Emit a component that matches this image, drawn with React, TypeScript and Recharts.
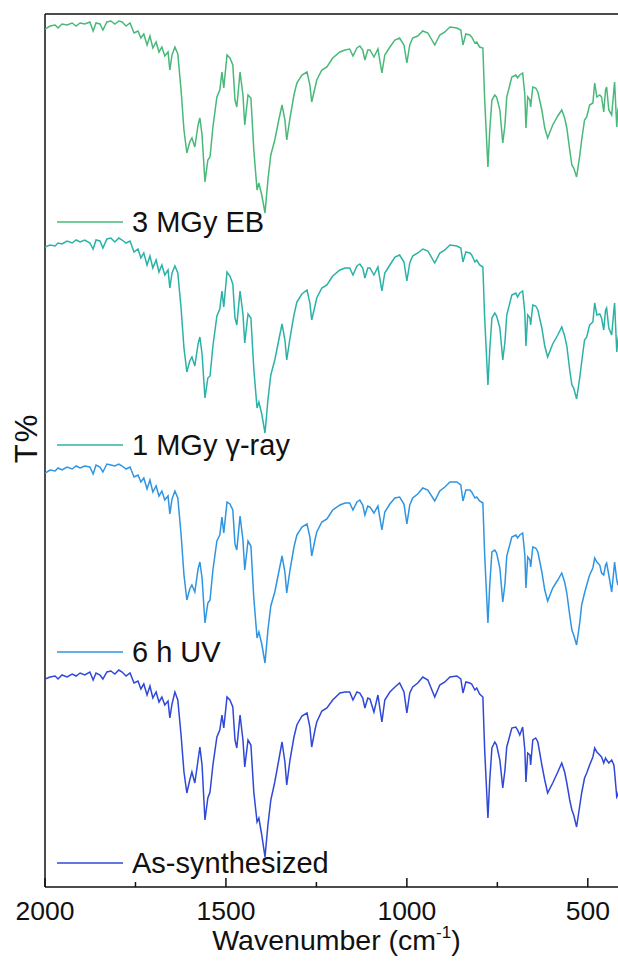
import React from 'react';
import { LineChart, Line, XAxis, YAxis, ReferenceLine } from 'recharts';

// wavenumber (cm-1), shared by all four spectra
const wavenumber = [
  2000, 1986, 1972, 1964, 1953, 1939, 1925, 1914, 1903, 1890, 1876, 1867, 1859, 1848, 1840, 1829, 1818, 1807, 1796, 1787,
  1776, 1765, 1754, 1743, 1735, 1727, 1718, 1710, 1702, 1693, 1685, 1677, 1669, 1660, 1655, 1649, 1641, 1633, 1624, 1616,
  1608, 1600, 1594, 1586, 1577, 1572, 1566, 1558, 1550, 1544, 1536, 1525, 1517, 1511, 1506, 1497, 1489, 1481, 1475, 1470,
  1461, 1453, 1448, 1439, 1431, 1423, 1414, 1409, 1401, 1392, 1384, 1376, 1365, 1354, 1345, 1337, 1332, 1323, 1312, 1304,
  1290, 1276, 1268, 1263, 1254, 1249, 1235, 1221, 1205, 1185, 1171, 1158, 1149, 1138, 1130, 1122, 1116, 1108, 1102, 1091,
  1080, 1069, 1061, 1047, 1033, 1020, 1008, 1000, 992, 984, 970, 956, 942, 923, 909, 895, 881, 862, 851, 845,
  837, 826, 821, 812, 807, 799, 790, 785, 776, 771, 765, 757, 752, 743, 735, 729, 724, 710, 699, 694,
  688, 680, 674, 671, 666, 660, 658, 652, 644, 638, 627, 619, 611, 597, 583, 572, 564, 558, 550, 544,
  539, 531, 522, 517, 509, 503, 495, 486, 481, 475, 467, 462, 456, 451, 448, 442, 434, 428, 426, 420,
  417, 409, 400,
];

// T% (stacked, arbitrary offset)
const eb3MGy = [
  85.8, 86.1, 86.2, 85.9, 86.3, 86.2, 86.4, 86.1, 86.4, 86.3, 86.5, 85.6, 86.4, 86.3, 85.7, 86.5, 86.6, 86.3, 86.6, 86.5,
  86.1, 86.4, 85.4, 85.6, 84.9, 85.3, 84.2, 85.1, 83.9, 84.5, 83.5, 84.0, 83.1, 83.5, 81.7, 83.2, 84.0, 83.3, 79.7, 75.7,
  73.4, 74.5, 74.9, 74.0, 76.2, 76.9, 75.2, 70.5, 72.7, 73.0, 76.0, 79.0, 79.7, 81.5, 79.9, 83.2, 82.9, 82.2, 78.7, 78.0,
  81.5, 79.2, 76.2, 79.2, 78.9, 73.7, 69.7, 70.4, 69.2, 67.4, 70.7, 73.2, 74.7, 76.7, 78.2, 76.7, 74.7, 76.9, 79.2, 80.4,
  81.2, 81.5, 80.2, 78.5, 79.9, 80.7, 81.7, 82.0, 82.9, 83.5, 83.7, 83.8, 83.1, 83.9, 84.1, 83.7, 82.7, 83.7, 83.7, 83.0,
  83.8, 81.4, 83.2, 84.0, 84.7, 84.9, 84.2, 82.4, 84.2, 84.9, 85.1, 85.6, 85.4, 84.2, 85.2, 85.5, 86.0, 85.9, 85.7, 84.2,
  85.3, 85.2, 85.0, 84.4, 84.5, 84.0, 83.9, 78.7, 72.0, 75.7, 78.7, 79.2, 79.0, 77.7, 74.4, 76.2, 79.0, 81.0, 81.2, 80.9,
  81.2, 81.4, 79.2, 75.9, 79.0, 78.7, 78.0, 80.0, 79.9, 79.5, 77.7, 75.9, 74.9, 76.2, 77.1, 77.7, 76.9, 75.9, 73.7, 72.2,
  71.9, 71.0, 73.2, 74.7, 76.7, 77.0, 78.2, 78.4, 80.4, 79.0, 79.2, 79.0, 77.5, 79.7, 80.0, 77.7, 77.2, 79.7, 80.5, 76.0,
  77.7, 78.7, 78.2,
];

const gamma1MGy = [
  64.0, 64.2, 64.1, 64.4, 64.3, 64.6, 64.4, 64.7, 64.5, 64.7, 64.4, 63.8, 64.7, 64.6, 63.9, 64.8, 64.9, 64.5, 64.9, 64.7,
  64.4, 64.6, 63.5, 63.8, 62.9, 63.4, 62.2, 63.1, 61.9, 62.7, 61.5, 62.2, 61.2, 61.7, 59.9, 61.4, 62.1, 61.4, 57.9, 53.9,
  51.5, 52.6, 53.0, 52.1, 54.3, 55.0, 53.3, 48.9, 50.9, 51.1, 54.1, 57.1, 57.8, 59.6, 58.0, 61.5, 61.1, 60.3, 56.9, 56.2,
  59.6, 57.3, 54.4, 57.3, 56.9, 51.8, 47.9, 48.5, 47.3, 45.4, 48.7, 51.2, 52.7, 54.7, 56.3, 54.7, 52.7, 54.9, 57.2, 58.5,
  59.3, 59.7, 58.4, 56.7, 58.1, 58.9, 59.9, 60.2, 61.1, 61.7, 61.9, 61.9, 61.2, 62.1, 62.3, 61.9, 60.9, 61.9, 61.9, 61.2,
  62.0, 59.6, 61.4, 62.2, 63.0, 63.2, 62.5, 60.6, 62.4, 63.1, 63.4, 63.8, 63.6, 62.4, 63.4, 63.7, 64.2, 64.1, 63.9, 62.5,
  63.5, 63.4, 63.2, 62.5, 62.7, 62.2, 62.0, 56.9, 50.2, 53.7, 56.9, 57.4, 57.1, 55.9, 52.7, 54.5, 57.2, 59.2, 59.4, 59.0,
  59.4, 59.6, 57.4, 54.1, 57.2, 56.9, 56.2, 58.2, 58.1, 57.7, 55.9, 54.1, 53.0, 54.3, 55.2, 56.0, 55.1, 54.1, 51.7, 50.2,
  49.9, 48.8, 51.0, 52.5, 54.7, 55.0, 56.2, 56.5, 58.4, 57.2, 57.3, 56.9, 55.7, 57.7, 57.9, 55.9, 55.2, 57.7, 58.4, 53.5,
  54.7, 56.5, 56.2,
];

const uv6h = [
  41.4, 41.7, 41.6, 41.9, 41.7, 42.0, 41.8, 42.1, 41.9, 42.1, 42.0, 41.3, 42.2, 42.0, 41.5, 42.3, 42.2, 42.1, 42.3, 42.1,
  41.8, 42.0, 41.0, 41.2, 40.5, 40.9, 39.8, 40.7, 39.5, 40.1, 39.1, 39.6, 38.7, 39.1, 37.3, 38.8, 39.6, 38.9, 35.3, 31.2,
  28.7, 29.8, 30.2, 29.5, 31.8, 32.5, 30.9, 26.4, 28.4, 28.7, 31.7, 34.6, 35.2, 37.0, 35.4, 38.5, 38.3, 37.7, 34.3, 33.7,
  37.1, 34.7, 31.7, 34.6, 34.1, 28.9, 24.9, 25.5, 24.3, 22.4, 25.7, 28.1, 29.5, 31.5, 33.1, 31.5, 29.4, 31.7, 34.0, 35.2,
  36.0, 36.3, 35.0, 33.1, 34.7, 35.5, 36.5, 36.8, 37.7, 38.2, 38.4, 38.4, 37.7, 38.5, 38.7, 38.2, 37.2, 38.1, 38.0, 37.4,
  38.1, 35.7, 37.5, 38.3, 38.9, 39.0, 38.3, 36.3, 38.2, 38.9, 39.3, 39.9, 39.7, 38.6, 39.6, 40.0, 40.5, 40.5, 40.2, 38.6,
  39.7, 39.7, 39.5, 38.9, 39.0, 38.6, 38.4, 33.2, 26.4, 30.2, 33.5, 33.7, 33.4, 31.9, 28.5, 30.3, 33.1, 35.0, 35.2, 34.9,
  35.2, 35.4, 33.2, 29.9, 33.0, 32.7, 32.0, 34.0, 33.9, 33.5, 31.5, 29.7, 28.6, 29.9, 30.7, 31.4, 30.5, 29.4, 27.2, 25.7,
  25.2, 24.2, 26.5, 28.2, 29.4, 30.2, 31.2, 31.9, 32.9, 32.5, 32.2, 31.4, 31.2, 32.2, 32.4, 31.2, 29.5, 31.7, 32.5, 30.7,
  30.2, 31.7, 31.5,
];

const asSynthesized = [
  20.8, 21.0, 21.1, 20.8, 21.2, 21.0, 21.3, 21.1, 21.4, 21.2, 21.5, 20.7, 21.4, 21.2, 20.8, 21.5, 21.6, 21.3, 21.7, 21.5,
  21.1, 21.4, 20.4, 20.6, 19.8, 20.3, 19.2, 20.1, 18.9, 19.5, 18.5, 19.0, 18.2, 18.6, 16.9, 18.3, 19.5, 18.7, 15.2, 11.5,
  9.4, 10.7, 11.5, 10.4, 12.7, 14.0, 12.2, 6.7, 8.9, 9.5, 12.2, 15.0, 15.7, 17.2, 15.9, 19.0, 18.7, 18.0, 14.7, 13.9,
  17.2, 14.7, 12.0, 14.7, 14.2, 9.5, 6.5, 6.9, 5.2, 3.0, 6.2, 8.7, 10.5, 12.7, 14.5, 12.5, 10.2, 12.7, 15.0, 16.2,
  17.1, 17.4, 16.0, 14.0, 15.7, 16.5, 17.6, 17.9, 18.7, 19.4, 19.5, 19.5, 18.7, 19.5, 19.4, 18.9, 17.9, 18.9, 18.8, 17.5,
  19.2, 16.5, 18.7, 19.5, 20.0, 20.4, 19.5, 17.4, 19.4, 20.0, 20.4, 21.0, 20.7, 19.0, 20.2, 20.5, 21.0, 21.1, 20.8, 19.4,
  20.5, 20.4, 20.3, 19.7, 19.9, 19.3, 19.0, 13.7, 6.9, 10.7, 13.9, 14.5, 14.2, 12.7, 9.9, 11.7, 14.0, 15.9, 16.0, 15.7,
  15.2, 16.0, 13.7, 10.5, 13.4, 13.2, 12.2, 14.7, 14.9, 14.5, 12.2, 10.7, 9.4, 10.4, 11.5, 12.4, 11.5, 10.4, 8.7, 7.7,
  7.2, 6.0, 8.2, 9.4, 10.9, 11.4, 12.2, 13.0, 13.9, 13.5, 13.2, 13.0, 12.4, 12.9, 12.7, 12.4, 12.7, 12.2, 11.5, 9.0,
  9.2, 10.7, 10.5,
];

const xTicks = [2000, 1750, 1500, 1250, 1000, 750, 500];

const FONT = '"Liberation Sans", Arial, sans-serif';
const INK = '#111';

const seriesList = [
  { key: 'eb', name: '3 MGy EB', color: '#48b979', values: eb3MGy },
  { key: 'gamma', name: '1 MGy γ-ray', color: '#2bb2a7', values: gamma1MGy },
  { key: 'uv', name: '6 h UV', color: '#2f95e2', values: uv6h },
  { key: 'pristine', name: 'As-synthesized', color: '#2f48d8', values: asSynthesized },
];

const data = wavenumber.map((wn, i) => {
  const row: Record<string, number> = { wn };
  seriesList.forEach((s) => {
    row[s.key] = s.values[i];
  });
  return row;
});

// legend rows sit under each trace, inside the frame
const legendTop = [222, 445, 652, 863];

const AxisTick = (props: any) => {
  const { x, y, payload } = props;
  const major = payload.value % 500 === 0;
  return (
    <g>
      <line x1={x} y1={y} x2={x} y2={y - (major ? 9 : 5)} stroke={INK} strokeWidth={1.5} />
      {major && (
        <text x={x} y={y + 33} textAnchor="middle" fontSize={26.5} fontFamily={FONT} fill={INK}>
          {payload.value}
        </text>
      )}
    </g>
  );
};

const AxisTitle = (props: any) => {
  const { viewBox } = props;
  const cx = viewBox.x + viewBox.width / 2 + 2;
  return (
    <text x={cx} y={viewBox.y + 63} textAnchor="middle" fontSize={28.5} fontFamily={FONT} fill={INK}>
      Wavenumber (cm
      <tspan dy={-12} fontSize={17}>-1</tspan>
      <tspan dy={12}>)</tspan>
    </text>
  );
};

const App: React.FC = () => {
  return (
    <div
      style={{
        position: 'fixed',
        top: 0,
        left: 0,
        width: 618,
        height: 965,
        overflow: 'hidden',
        background: '#fff',
      }}
    >
      <LineChart width={640} height={965} data={data} margin={{ top: 14, right: 16, bottom: 0, left: 45 }}>
        <XAxis
          type="number"
          dataKey="wn"
          domain={[400, 2000]}
          reversed
          ticks={xTicks}
          interval={0}
          height={78}
          tickSize={0}
          tickMargin={0}
          tickLine={false}
          tick={<AxisTick />}
          axisLine={{ stroke: INK, strokeWidth: 1.5 }}
          allowDataOverflow
          label={AxisTitle}
        />
        <YAxis type="number" domain={[0, 87.3]} width={0} hide allowDataOverflow />
        <ReferenceLine y={87.3} stroke={INK} strokeWidth={1.5} />
        <ReferenceLine x={2000} stroke={INK} strokeWidth={1.5} />
        {seriesList.map((s) => (
          <Line
            key={s.key}
            type="linear"
            dataKey={s.key}
            name={s.name}
            stroke={s.color}
            strokeWidth={1.5}
            dot={false}
            isAnimationActive={false}
          />
        ))}
      </LineChart>

      <svg
        width={618}
        height={965}
        style={{ position: 'absolute', top: 0, left: 0, pointerEvents: 'none' }}
      >
        <text
          transform="translate(37, 438) rotate(-90)"
          textAnchor="middle"
          fontSize={31}
          letterSpacing={2}
          fontFamily={FONT}
          fill={INK}
        >
          T%
        </text>
        {seriesList.map((s, i) => (
          <g key={s.key}>
            <line x1={57} y1={legendTop[i]} x2={123} y2={legendTop[i]} stroke={s.color} strokeWidth={1.5} />
            <text x={132} y={legendTop[i] + 10} fontSize={29} fontFamily={FONT} fill={INK}>
              {s.name}
            </text>
          </g>
        ))}
      </svg>
    </div>
  );
};

export default App;
